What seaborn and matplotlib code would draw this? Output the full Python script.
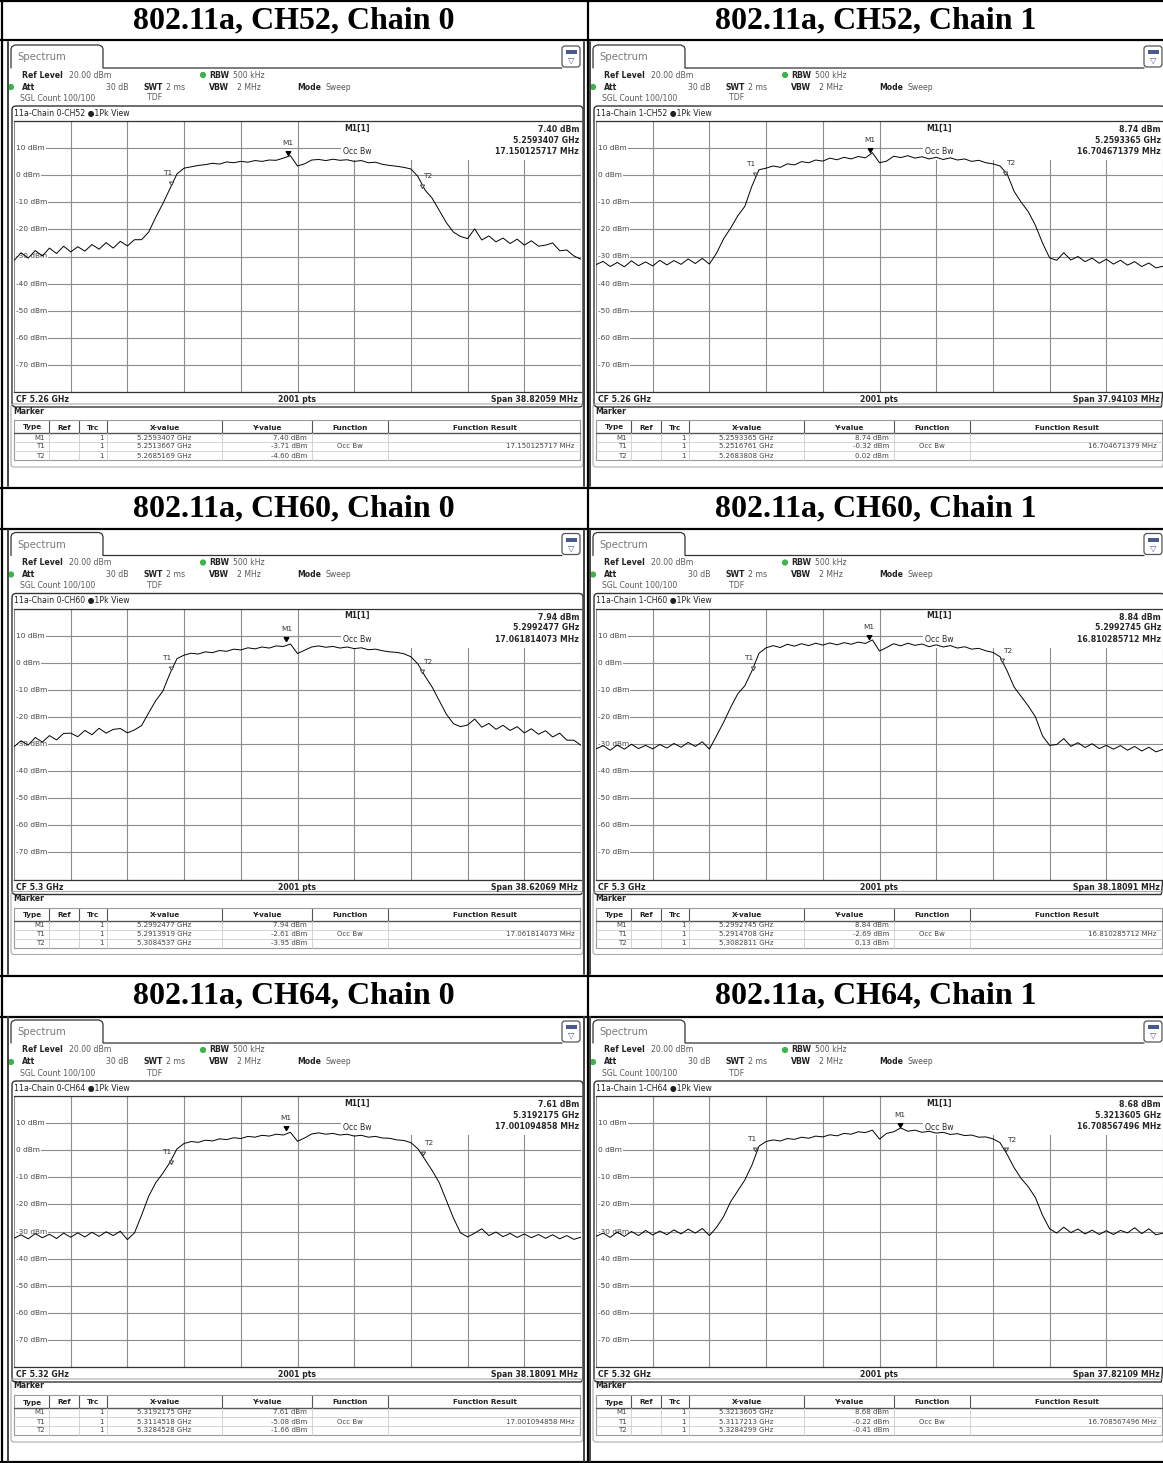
import numpy as np
import pandas as pd
import matplotlib
matplotlib.use("Agg")
import matplotlib.pyplot as plt
import seaborn as sns
from matplotlib.patches import FancyBboxPatch, Rectangle, Circle

sns.set_theme(style="white")
plt.rcParams['font.family'] = ['DejaVu Sans']

# ---- values ----
titles = ["802.11a, CH52, Chain 0", "802.11a, CH52, Chain 1",
          "802.11a, CH60, Chain 0", "802.11a, CH60, Chain 1",
          "802.11a, CH64, Chain 0", "802.11a, CH64, Chain 1"]
trace_names = ["11a-Chain 0-CH52", "11a-Chain 1-CH52", "11a-Chain 0-CH60",
               "11a-Chain 1-CH60", "11a-Chain 0-CH64", "11a-Chain 1-CH64"]
cf_ghz = [5.26, 5.26, 5.30, 5.30, 5.32, 5.32]
cf_labels = ["5.26 GHz", "5.26 GHz", "5.3 GHz", "5.3 GHz", "5.32 GHz", "5.32 GHz"]
span_mhz = [38.82059, 37.94103, 38.62069, 38.18091, 38.18091, 37.82109]
m1_freq = [5.2593407, 5.2593365, 5.2992477, 5.2992745, 5.3192175, 5.3213605]
m1_level = [7.40, 8.74, 7.94, 8.84, 7.61, 8.68]
t1_freq = [5.2513667, 5.2516761, 5.2913919, 5.2914708, 5.3114518, 5.3117213]
t1_level = [-3.71, -0.32, -2.61, -2.69, -5.08, -0.22]
t2_freq = [5.2685169, 5.2683808, 5.3084537, 5.3082811, 5.3284528, 5.3284299]
t2_level = [-4.60, 0.02, -3.95, 0.13, -1.66, -0.41]
occ_bw = ["17.150125717", "16.704671379", "17.061814073",
          "16.810285712", "17.001094858", "16.708567496"]

# trace levels (dBm), sampled evenly across the span
trace_ch52_c0 = [-31.5, -28.6, -30.6, -27.8, -29.8, -26.9, -28.9, -26.2,
                 -28.3, -26.4, -28.0, -25.6, -27.3, -24.9, -26.9, -24.4,
                 -26.1, -23.8, -23.8, -21.0, -15.5, -10.5, -5.0, 0.5,
                 2.6, 3.1, 3.6, 3.9, 4.4, 4.1, 4.9, 4.6,
                 5.1, 4.8, 5.4, 5.1, 5.6, 5.5, 6.3, 7.2,
                 3.4, 4.2, 5.6, 5.8, 5.4, 5.9, 5.5, 5.7,
                 5.1, 5.4, 4.6, 4.8, 4.0, 3.6, 3.3, 2.9,
                 2.3, -0.5, -5.5, -8.5, -13.0, -17.5, -21.0, -22.6,
                 -23.4, -19.8, -23.9, -22.4, -24.6, -23.2, -25.2, -23.6,
                 -25.8, -24.2, -26.2, -25.8, -25.0, -27.9, -27.6, -29.8,
                 -31.0]
trace_ch52_c1 = [-33.0, -31.8, -33.7, -32.2, -33.8, -31.6, -33.4, -32.0,
                 -33.5, -31.4, -33.1, -31.5, -32.9, -30.9, -32.6, -30.7,
                 -32.8, -28.8, -23.5, -19.5, -15.0, -11.5, -4.0, 2.0,
                 2.6, 3.4, 2.9, 4.2, 3.8, 5.0, 4.6, 5.6,
                 5.2, 6.3, 5.7, 6.6, 6.0, 6.9, 6.4, 8.3,
                 4.6, 5.2, 7.0, 6.5, 7.2, 6.3, 6.8, 6.0,
                 6.6, 5.8, 6.4, 5.6, 6.0, 5.1, 5.5, 4.6,
                 4.2, 3.4, 0.5, -6.0, -10.0, -13.5, -18.5, -25.0,
                 -30.5, -31.4, -28.6, -31.3, -30.0, -31.9, -30.6, -32.5,
                 -31.0, -32.8, -31.4, -33.2, -31.9, -33.7, -32.4, -34.2,
                 -33.6]
trace_ch60_c0 = [-31.0, -28.8, -30.4, -27.6, -29.3, -26.9, -28.5, -26.1,
                 -26.0, -27.3, -25.0, -26.6, -24.2, -26.0, -24.6, -24.3,
                 -25.9, -24.8, -23.2, -18.5, -14.0, -10.5, -4.0, 1.5,
                 2.8, 3.5, 3.2, 4.0, 3.7, 4.5, 4.2, 5.0,
                 4.7, 5.5, 5.1, 5.8, 5.4, 6.2, 6.0, 6.9,
                 3.4, 4.6, 5.8, 6.2, 5.7, 6.0, 5.4, 5.8,
                 5.2, 5.5, 4.8, 5.0, 4.4, 4.0, 3.8, 3.3,
                 2.2, -0.5, -5.0, -9.0, -14.0, -19.0, -22.5, -23.6,
                 -23.0, -20.8, -23.8, -22.4, -24.6, -23.1, -25.0, -23.6,
                 -25.9, -24.4, -26.4, -25.1, -27.4, -26.0, -28.6, -28.6,
                 -30.5]
trace_ch60_c1 = [-31.8, -30.6, -32.3, -30.4, -31.9, -30.1, -31.7, -30.5,
                 -31.8, -30.2, -31.5, -29.8, -31.2, -29.4, -30.9, -29.2,
                 -31.9, -27.0, -22.0, -16.5, -11.5, -8.5, -3.0, 3.5,
                 5.5, 6.3, 5.6, 6.8, 6.1, 7.0, 6.3, 7.2,
                 6.5, 7.3, 6.6, 7.4, 6.8, 7.6, 7.1, 8.4,
                 4.3, 5.6, 7.0, 6.2, 7.2, 6.4, 6.9, 5.9,
                 6.6, 5.8, 6.3, 5.4, 5.9, 5.0, 5.3, 4.4,
                 3.8, 2.2, -3.0, -9.0, -12.5, -16.0, -20.0, -27.0,
                 -30.5, -30.2, -28.0, -30.9, -29.5, -31.3, -29.9, -31.7,
                 -30.5, -31.9, -30.6, -32.3, -30.9, -32.6, -31.2, -32.9,
                 -32.0]
trace_ch64_c0 = [-32.5, -31.2, -32.7, -30.8, -32.3, -31.0, -32.6, -30.6,
                 -32.1, -30.5, -32.0, -30.3, -31.8, -30.1, -31.5, -29.9,
                 -33.0, -30.5, -24.0, -17.0, -12.0, -8.5, -4.5, 0.5,
                 2.5, 3.2, 2.9, 3.7, 3.4, 4.2, 3.9, 4.6,
                 4.3, 5.1, 4.8, 5.5, 5.2, 5.9, 5.6, 6.6,
                 3.3, 4.5, 6.0, 6.4, 5.9, 6.2, 5.6, 5.9,
                 5.2, 5.5, 4.8, 5.1, 4.5, 4.4, 3.8, 3.6,
                 2.8, 0.5, -3.5, -7.5, -12.0, -18.5, -25.0, -30.5,
                 -32.0, -30.6, -29.0, -31.5, -30.2, -31.9, -30.7, -32.2,
                 -30.9, -32.3, -31.1, -32.5, -31.2, -32.7, -31.5, -32.9,
                 -32.1]
trace_ch64_c1 = [-31.8, -30.6, -32.2, -30.2, -31.8, -30.0, -31.5, -29.6,
                 -31.3, -29.8, -31.2, -29.4, -30.9, -29.1, -30.6, -28.9,
                 -31.5, -28.5, -24.5, -19.0, -15.0, -11.0, -5.5, 1.5,
                 3.2, 3.8, 3.4, 4.3, 4.0, 4.8, 4.4, 5.2,
                 4.9, 5.7, 5.3, 6.2, 5.9, 6.8, 6.5, 7.4,
                 4.1, 6.2, 6.8, 8.2, 7.0, 7.4, 6.6, 7.0,
                 6.3, 6.6, 5.8, 6.1, 5.4, 5.6, 4.8, 4.9,
                 4.2, 2.8, -1.5, -6.5, -10.5, -13.5, -17.5, -24.0,
                 -29.0, -30.6, -28.4, -30.4, -29.1, -30.9, -29.5, -31.1,
                 -29.7, -31.1, -29.6, -30.5, -28.6, -30.8, -29.0, -31.2,
                 -30.6]
traces = [trace_ch52_c0, trace_ch52_c1, trace_ch60_c0,
          trace_ch60_c1, trace_ch64_c0, trace_ch64_c1]

W, H = 1163, 1463
GRID = '#8c8c8c'
DARK = '#222222'
GRAY = '#5a5a5a'
FS = 5.6
TRI = [(0, 0), (-1, 1.7), (1, 1.7), (0, 0)]   # triangle with its tip on the point

fig = plt.figure(figsize=(W / 100, H / 100), dpi=100)
bg = fig.add_axes([0, 0, 1, 1], zorder=0)
bg.set_xlim(0, W)
bg.set_ylim(H, 0)
bg.axis('off')

# outer table
for y in [1, 40, 488, 529, 976, 1017, 1462]:
    bg.plot([0, W], [y, y], color='black', lw=1.6)
for x in [1.5, 588]:
    bg.plot([x, x], [0, H], color='black', lw=1.6)

for k in range(6):
    col, row = k % 2, k // 2
    dx, dy = col * 582, row * 487.5

    def T(x, y, s, **kw):
        kw.setdefault('fontsize', FS)
        kw.setdefault('va', 'center')
        kw.setdefault('color', DARK)
        bg.text(x + dx, y + dy, s, **kw)

    def L(xs, ys, **kw):
        bg.plot([v + dx for v in xs], [v + dy for v in ys], **kw)

    # cell title
    bg.text([294, 875.5][col], 21 + dy, titles[k], ha='center', va='center',
            family='Liberation Serif', weight='bold', fontsize=23, color='black')

    # screenshot frame
    L([8, 8], [42, 486], color='#444', lw=1.4)
    L([584, 584], [42, 486], color='#444', lw=1.4)

    # "Spectrum" tab and icon
    L([11, 11, 12, 15, 99, 102, 103, 103, 562],
      [68, 49, 46.5, 45, 45, 46.5, 49, 68, 68], color='#333', lw=0.9)
    T(17, 57, 'Spectrum', fontsize=7.3, color='#7a7a7a')
    bg.add_patch(FancyBboxPatch((562 + dx, 46 + dy), 18, 21,
                                boxstyle='round,pad=0,rounding_size=3',
                                fc='white', ec='#555', lw=0.9))
    bg.add_patch(Rectangle((565.5 + dx, 50 + dy), 11, 4, fc='#4a5a8a', ec='none'))
    T(571, 60.5, '▽', fontsize=6, ha='center', color='#4a5a8a')

    # settings header
    T(22, 75, 'Ref Level', weight='bold')
    T(69, 75, '20.00 dBm', color=GRAY)
    bg.add_patch(Circle((203 + dx, 75 + dy), 2.4, color='#3cb44b'))
    T(209, 75, 'RBW', weight='bold')
    T(233, 75, '500 kHz', color=GRAY)
    bg.add_patch(Circle((11 + dx, 87 + dy), 2.4, color='#3cb44b'))
    T(22, 87, 'Att', weight='bold')
    T(128, 87, '30 dB', ha='right', color=GRAY)
    T(143, 87, 'SWT', weight='bold')
    T(166, 87, '2 ms', color=GRAY)
    T(209, 87, 'VBW', weight='bold')
    T(237, 87, '2 MHz', color=GRAY)
    T(297, 87, 'Mode', weight='bold')
    T(325, 87, 'Sweep', color=GRAY)
    T(20, 98, 'SGL Count 100/100', color=GRAY)
    T(147, 98, 'TDF', color=GRAY)

    # diagram box
    bg.add_patch(FancyBboxPatch((12 + dx, 106 + dy), 571, 301,
                                boxstyle='round,pad=0,rounding_size=4',
                                fc='none', ec='#333', lw=1.0))
    T(14, 113.5, f"{trace_names[k]} \u25cf1Pk View")
    T(16, 399.5, f"CF {cf_labels[k]}", weight='bold')
    T(297, 399.5, '2001 pts', weight='bold', ha='center')
    T(578, 399.5, f"Span {span_mhz[k]:.5f} MHz", weight='bold', ha='right')

    # trace area
    x0, y0, x1, y1 = 14 + dx, 121 + dy, 581 + dx, 392 + dy
    ax = fig.add_axes([x0 / W, 1 - y1 / H, (x1 - x0) / W, (y1 - y0) / H], zorder=1)
    half = span_mhz[k] / 2
    df = pd.DataFrame({'freq': np.linspace(-half, half, len(traces[k])),
                       'level': traces[k]})
    sns.lineplot(data=df, x='freq', y='level', ax=ax, color='black', lw=0.7,
                 zorder=3)
    ax.set_xlim(-half, half)
    ax.set_ylim(-80, 20)
    ax.set_xticks(np.linspace(-half, half, 11))
    ax.set_yticks(np.arange(-80, 21, 10))
    ax.set_xticklabels([])
    ax.set_yticklabels([])
    ax.tick_params(length=0)
    ax.set_xlabel('')
    ax.set_ylabel('')
    ax.grid(True, color=GRID, lw=0.8)
    ax.set_axisbelow(True)
    for s in ['left', 'right']:
        ax.spines[s].set_visible(False)
    for s in ['top', 'bottom']:
        ax.spines[s].set_color('#333')
        ax.spines[s].set_linewidth(0.9)

    for v in range(10, -80, -10):
        ax.text(0.004, v, f"{v} dBm", transform=ax.get_yaxis_transform(),
                fontsize=5.3, color='#444', va='center', ha='left', zorder=1.6,
                bbox=dict(fc='white', ec='none', pad=0.6))

    # marker readout
    def A(x, y):
        return ((x - 14) / 567, (392 - y) / 271)
    ax.add_patch(Rectangle(A(341, 160), (581 - 341) / 567, 39 / 271,
                           transform=ax.transAxes, fc='white', ec='none', zorder=1.5))
    ax.text(*A(344, 128), 'M1[1]', transform=ax.transAxes, fontsize=FS,
            weight='bold', va='center', zorder=4)
    ax.text(*A(579, 129.5), f"{m1_level[k]:.2f} dBm", transform=ax.transAxes,
            fontsize=FS, weight='bold', ha='right', va='center', zorder=4)
    ax.text(*A(579, 140.5), f"{m1_freq[k]:.7f} GHz", transform=ax.transAxes,
            fontsize=FS, weight='bold', ha='right', va='center', zorder=4)
    ax.text(*A(579, 151.5), f"{occ_bw[k]} MHz", transform=ax.transAxes,
            fontsize=FS, weight='bold', ha='right', va='center', zorder=4)
    ax.text(*A(343, 152), 'Occ Bw', transform=ax.transAxes, fontsize=FS,
            va='center', zorder=4)

    cf = cf_ghz[k]
    mx = (m1_freq[k] - cf) * 1000
    ax.plot([mx], [m1_level[k]], marker=TRI, ms=5.5, color='black', ls='none', zorder=5)
    ax.annotate('M1', (mx, m1_level[k]), xytext=(0, 8.5), textcoords='offset points',
                ha='center', va='center', fontsize=5.3, color='#333')
    for name, f, lv, off in [('T1', t1_freq[k], t1_level[k], -3),
                             ('T2', t2_freq[k], t2_level[k], 4)]:
        tx = (f - cf) * 1000
        ax.plot([tx], [lv], marker=TRI, ms=5, mfc='white', mec='#444', mew=0.7,
                ls='none', zorder=5)
        ax.annotate(name, (tx, lv), xytext=(off, 8.5), textcoords='offset points',
                    ha='center', va='center', fontsize=5.3, color='#333')

    # marker table
    bg.add_patch(FancyBboxPatch((11 + dx, 404 + dy), 572, 63,
                                boxstyle='round,pad=0,rounding_size=3',
                                fc='none', ec='#aaaaaa', lw=0.8))
    T(13, 411, 'Marker', weight='bold')
    bg.add_patch(Rectangle((14 + dx, 420 + dy), 566, 40, fc='none', ec='#999', lw=0.8))
    L([14, 580], [433, 433], color='#555', lw=1.0)
    for yy in [442, 451]:
        L([14, 580], [yy, yy], color='#cccccc', lw=0.6)
    for xx in [49, 79, 107, 222, 312, 388]:
        L([xx, xx], [421, 433], color='#555', lw=0.8)
        L([xx, xx], [433, 460], color='#cccccc', lw=0.6)
    for cx, h in [(32, 'Type'), (64, 'Ref'), (93, 'Trc'), (165, 'X-value'),
                  (267, 'Y-value'), (350, 'Function'), (485, 'Function Result')]:
        T(cx, 427.5, h, weight='bold', ha='center', fontsize=5.2)
    rows = [('M1', m1_freq[k], m1_level[k], '', ''),
            ('T1', t1_freq[k], t1_level[k], 'Occ Bw', f"{occ_bw[k]} MHz"),
            ('T2', t2_freq[k], t2_level[k], '', '')]
    for i, (nm, f, lv, fn, res) in enumerate(rows):
        yy = 437.5 + 9 * i
        T(45, yy, nm, ha='right', fontsize=5.0, color='#444')
        T(104, yy, '1', ha='right', fontsize=5.0, color='#444')
        T(164, yy, f"{f:.7f} GHz", ha='center', fontsize=5.0, color='#444')
        T(307, yy, f"{lv:.2f} dBm", ha='right', fontsize=5.0, color='#444')
        T(350, yy, fn, ha='center', fontsize=5.0, color='#444')
        T(575, yy, res, ha='right', fontsize=5.0, color='#444')

fig.savefig('out.png', dpi=100)
